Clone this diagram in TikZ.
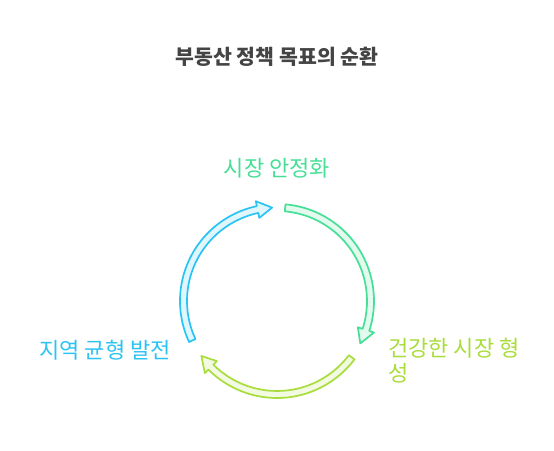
\documentclass[tikz,border=0pt]{standalone}
\usepackage{fontspec}
\setmainfont{Noto Sans CJK KR}
\definecolor{cblue}{HTML}{2BC3F3}
\definecolor{cgreen}{HTML}{45DF96}
\definecolor{cyellow}{HTML}{A8DD3C}
\definecolor{titlegray}{HTML}{444444}

\begin{document}
\begin{tikzpicture}[line cap=round,line join=round,x=1pt,y=1pt]
  \useasboundingbox (0,0) rectangle (554,450);
  % title
  \node[font=\bfseries\fontsize{20.5}{24}\selectfont,text=titlegray] (title) at (277,393) {부동산 정책 목표의 순환};
  % the three arrows of the cycle
  \begin{scope}[shift={(277,149)}]
    \foreach \a/\b/\col in {205/93/cblue,85/-27/cgreen,-37/-144/cyellow} {
      \pgfmathsetmacro{\hb}{\b+9}
      \draw[line width=1.7pt,draw=\col,fill=\col!15] (\a:97) arc[start angle=\a,end angle=\hb,radius=97]
        -- (\hb:102) -- (\b:93.5) -- (\hb:85) -- (\hb:90)
        arc[start angle=\hb,end angle=\a,radius=90] -- cycle;
    }
  \end{scope}
  % labels
  \node[font=\fontsize{22}{25}\selectfont,text=cgreen] (stable) at (277,282) {시장 안정화};
  \node[font=\fontsize{22}{25}\selectfont,text=cblue,anchor=west] (region) at (36,100) {지역 균형 발전};
  \node[font=\fontsize{22}{25}\selectfont,text=cyellow,anchor=north west,align=left,inner sep=2pt] (market) at (386,114) {건강한 시장 형\\성};
\end{tikzpicture}
\end{document}
